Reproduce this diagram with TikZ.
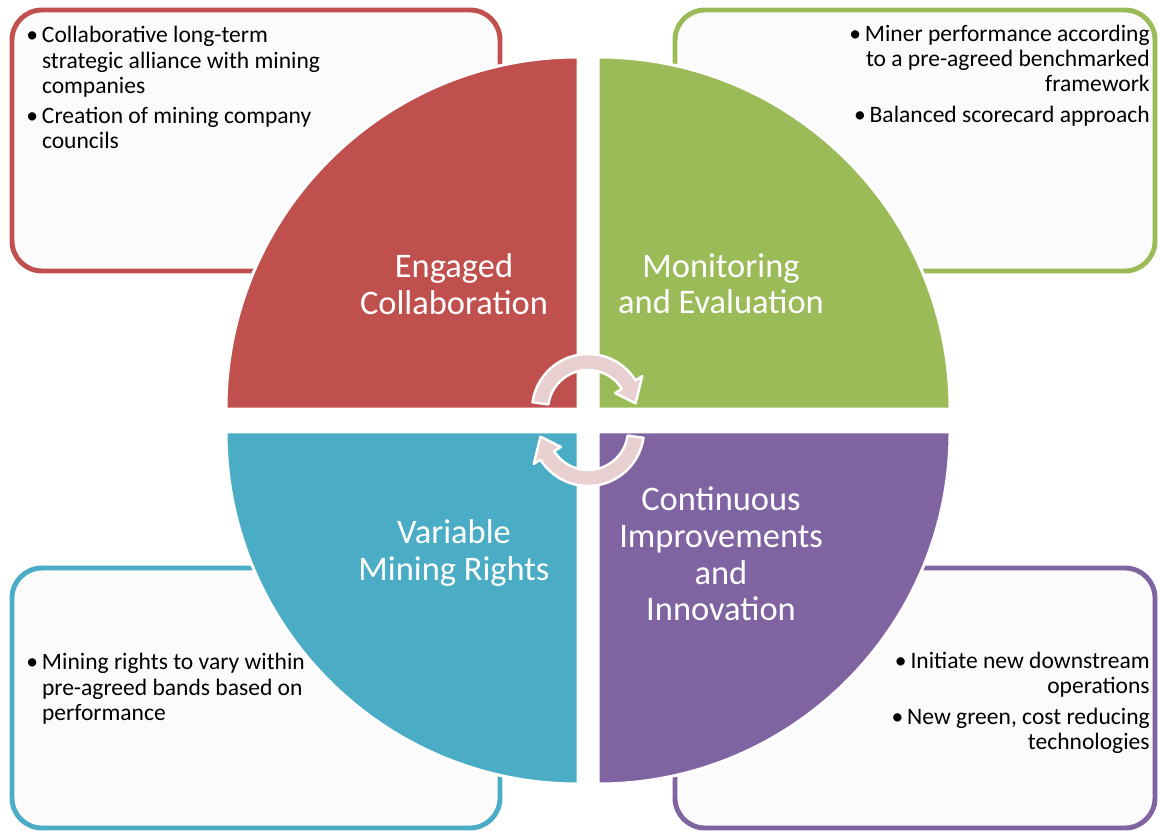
\documentclass[tikz,border=0pt]{standalone}
\usepackage{fontspec}
\setmainfont{Carlito}
\usetikzlibrary{calc}

\definecolor{qred}{HTML}{C0504D}
\definecolor{qgreen}{HTML}{9BBB59}
\definecolor{qblue}{HTML}{4BACC6}
\definecolor{qpurple}{HTML}{8064A2}
\definecolor{arrowpink}{RGB}{233,208,208}
\definecolor{boxfill}{RGB}{251,251,251}

\begin{document}
\begin{tikzpicture}[x=0.02cm, y=0.02cm,
  infobox/.style={line width=2.8pt, rounded corners=0.6cm, fill=boxfill},
  quarter/.style={draw=white, line width=1.7pt},
  cyclearrow/.style={fill=arrowpink, draw=white, line width=1.4pt, line join=round},
  title/.style={text=white, align=center, font=\fontsize{19.6}{20.8}\selectfont},
  bullets/.style={inner sep=0pt, font=\fontsize{13.4}{14.3}\selectfont}]
\useasboundingbox (0,0) rectangle (1159,-831);

% Draw the four text boxes behind the circle
\draw[infobox, draw=qred] (12,-10) rectangle (500,-271);
\draw[infobox, draw=qgreen] (675,-10) rectangle (1155,-271);
\draw[infobox, draw=qblue] (12,-568) rectangle (500,-828);
\draw[infobox, draw=qpurple] (675,-568) rectangle (1155,-828);

% Draw the four quarters of the circle
\filldraw[quarter, fill=qred] (578,-409) -- (226,-409) arc[start angle=180, end angle=90, radius=352] -- cycle;
\filldraw[quarter, fill=qgreen] (598,-409) -- (598,-57) arc[start angle=90, end angle=0, radius=352] -- cycle;
\filldraw[quarter, fill=qblue] (578,-432) -- (578,-784) arc[start angle=270, end angle=180, radius=352] -- cycle;
\filldraw[quarter, fill=qpurple] (598,-432) -- (950,-432) arc[start angle=0, end angle=-90, radius=352] -- cycle;

% Draw the two arrows in the middle
\coordinate (c1) at (588,-410);
\coordinate (c2) at (588,-430);
\filldraw[cyclearrow] ([shift={(c1)}]172:56) arc[start angle=172, end angle=32, radius=56]
  -- ([shift={(c1)}]32:64) -- ([shift={(c1)}]8:48) -- ([shift={(c1)}]32:32)
  -- ([shift={(c1)}]32:40) arc[start angle=32, end angle=172, radius=40] -- cycle;
\filldraw[cyclearrow] ([shift={(c2)}]-8:56) arc[start angle=-8, end angle=-148, radius=56]
  -- ([shift={(c2)}]-148:64) -- ([shift={(c2)}]-172:48) -- ([shift={(c2)}]-148:32)
  -- ([shift={(c2)}]-148:40) arc[start angle=-148, end angle=-8, radius=40] -- cycle;

% Titles of the quarters
\node[title] (engaged) at (454,-284) {Engaged\\Collaboration};
\node[title] (monitoring) at (721,-284) {Monitoring\\and Evaluation};
\node[title] (variable) at (454,-553) {Variable\\Mining Rights};
\node[title] (continuous) at (721,-554) {Continuous\\Improvements\\and\\Innovation};

% Bullet texts in the boxes
\node[bullets, anchor=north west] (collabtext) at (26,-25) {\begin{tabular}{@{}l@{\,}l@{}}
\textbullet & Collaborative long-term\\
 & strategic alliance with mining\\
 & companies\\[3pt]
\textbullet & Creation of mining company\\
 & councils
\end{tabular}};
\node[bullets, anchor=north east, align=right] (monitortext) at (1150,-25) {%
\textbullet\,Miner performance according\\
to a pre-agreed benchmarked\\
framework\\[3pt]
\textbullet\,Balanced scorecard approach};
\node[bullets, anchor=north west] (rightstext) at (26,-652) {\begin{tabular}{@{}l@{\,}l@{}}
\textbullet & Mining rights to vary within\\
 & pre-agreed bands based on\\
 & performance
\end{tabular}};
\node[bullets, anchor=north east, align=right] (innovtext) at (1150,-652) {%
\textbullet\,Initiate new downstream\\
operations\\[3pt]
\textbullet\,New green, cost reducing\\
technologies};
\end{tikzpicture}
\end{document}
